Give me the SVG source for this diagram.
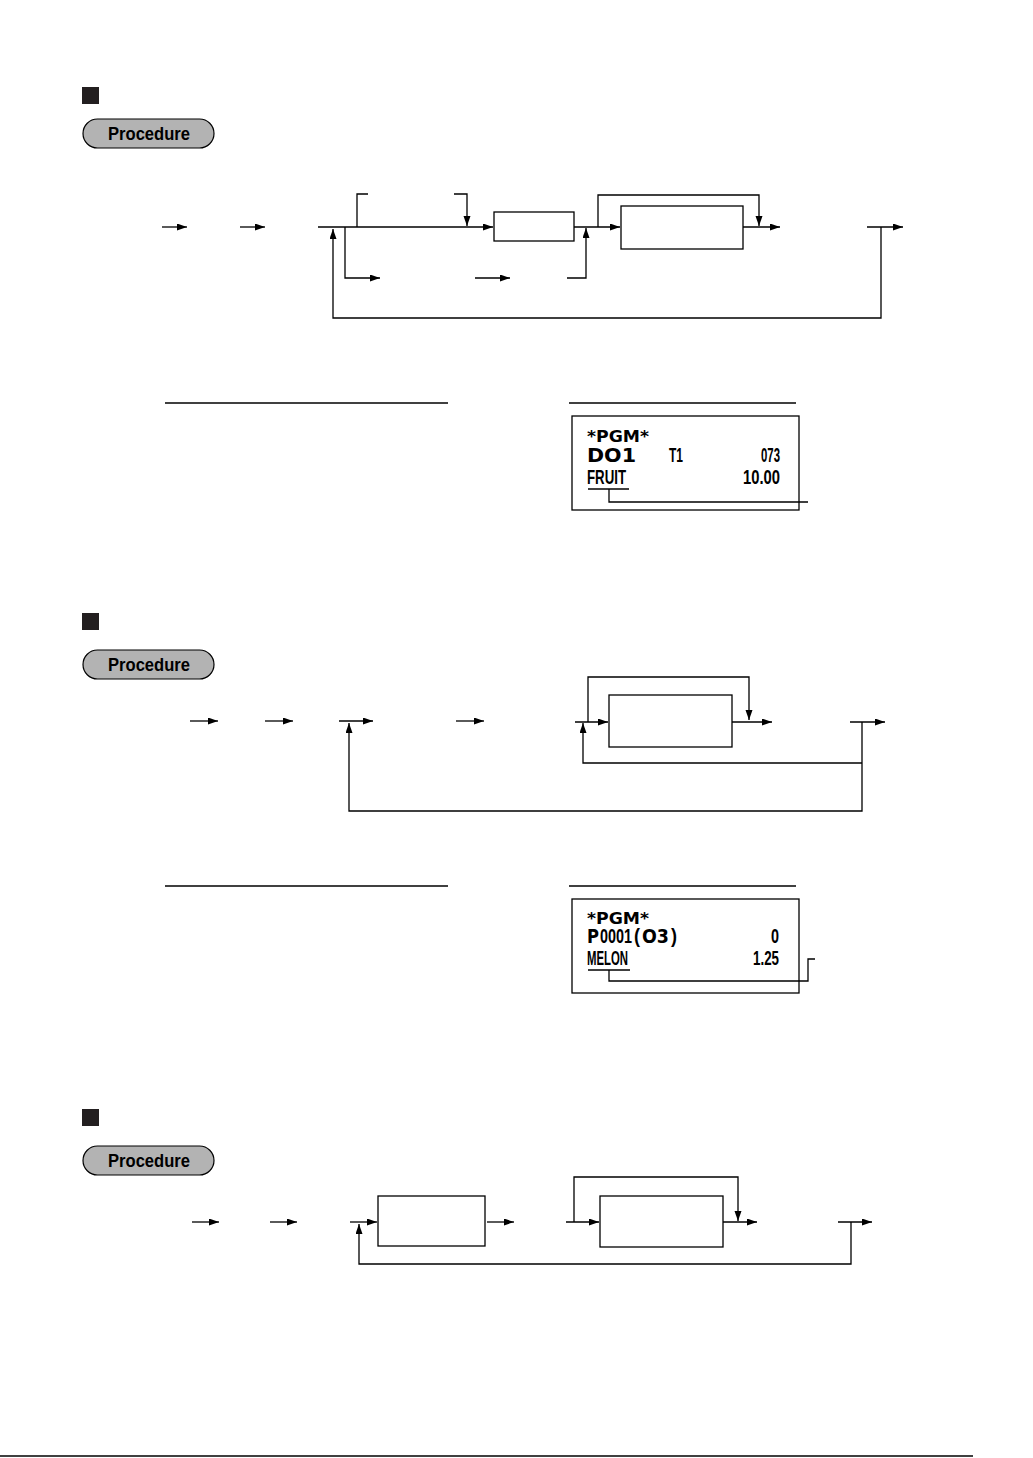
<svg xmlns="http://www.w3.org/2000/svg" width="1033" height="1458" viewBox="0 0 1033 1458">
<style>
.ln{fill:none;stroke:#000;stroke-width:1.3}
.ar{fill:none;stroke:#000;stroke-width:1.3;marker-end:url(#ah)}
.box{fill:#fff;stroke:#000;stroke-width:1.3}
.pill{fill:#b3b3b3;stroke:#000;stroke-width:1.2}
.ptxt{font-family:"Liberation Sans",sans-serif;font-weight:bold;font-size:18px;fill:#000}
.big{font-family:"DejaVu Sans",sans-serif;font-weight:bold;fill:#000}
.nar{font-family:"Liberation Sans",sans-serif;font-weight:bold;font-size:21px;fill:#000}
.rule{stroke:#000;stroke-width:1.3}
</style>
<defs>
<marker id="ah" markerUnits="userSpaceOnUse" markerWidth="11" markerHeight="8" refX="10" refY="3.5" orient="auto">
<path d="M0,0 L10,3.5 L0,7 z" fill="#000"/>
</marker>
</defs>
<rect width="1033" height="1458" fill="#fff"/>

<!-- Section 1 -->
<g id="sec1-head">
<rect x="82" y="87" width="17" height="17" fill="#231f20"/>
<rect class="pill" x="83" y="119" width="131" height="29" rx="14.5"/>
<text class="ptxt" x="108" y="140" textLength="82" lengthAdjust="spacingAndGlyphs">Procedure</text>
</g>
<g id="s1-box1"><rect class="box" x="494" y="212" width="80" height="29"/></g>
<g id="s1-box2"><rect class="box" x="621" y="206" width="122" height="43"/></g>
<g id="s1-connectors">
<path class="ar" d="M162,227 H187"/>
<path class="ar" d="M240,227 H265"/>
<path class="ar" d="M318,227 H493"/>
<path class="ar" d="M881,227 V318 H333 V229"/>
<path class="ln" d="M357,227 V194 H368"/>
<path class="ar" d="M454,194 H467 V226"/>
<path class="ar" d="M345,227 V278 H380"/>
<path class="ar" d="M475,278 H510"/>
<path class="ar" d="M574,227 H620"/>
<path class="ar" d="M567,278 H586 V228"/>
<path class="ar" d="M598,227 V195 H759 V226"/>
<path class="ar" d="M743,227 H780"/>
<path class="ar" d="M867,227 H903"/>
</g>
<g id="s1-rules">
<line class="rule" x1="165" y1="403" x2="448" y2="403"/>
<line class="rule" x1="569" y1="403" x2="796" y2="403"/>
</g>
<g id="s1-receipt">
<rect class="box" x="572" y="416" width="227" height="94"/>
<text class="big" x="587" y="442" font-size="16" textLength="62" lengthAdjust="spacingAndGlyphs">*PGM*</text>
<text class="big" x="587" y="462" font-size="20" textLength="49" lengthAdjust="spacingAndGlyphs">DO1</text>
<text class="nar" x="669" y="462" textLength="14" lengthAdjust="spacingAndGlyphs">T1</text>
<text class="nar" x="761" y="462" textLength="19" lengthAdjust="spacingAndGlyphs">073</text>
<text class="nar" x="587" y="484" textLength="39" lengthAdjust="spacingAndGlyphs">FRUIT</text>
<text class="nar" x="743" y="484" textLength="37" lengthAdjust="spacingAndGlyphs">10.00</text>
<line class="rule" x1="588" y1="489" x2="629" y2="489"/>
<path class="ln" d="M609,489 V502 H808"/>
</g>

<!-- Section 2 -->
<g id="sec2-head">
<rect x="82" y="613" width="17" height="17" fill="#231f20"/>
<rect class="pill" x="83" y="650" width="131" height="29" rx="14.5"/>
<text class="ptxt" x="108" y="671" textLength="82" lengthAdjust="spacingAndGlyphs">Procedure</text>
</g>
<g id="s2-box1"><rect class="box" x="609" y="695" width="123" height="52"/></g>
<g id="s2-connectors">
<path class="ar" d="M190,721 H218"/>
<path class="ar" d="M265,721 H293"/>
<path class="ar" d="M339,721 H373"/>
<path class="ar" d="M862,722 V811 H349 V723"/>
<path class="ar" d="M456,721 H484"/>
<path class="ar" d="M575,722 H608"/>
<path class="ar" d="M862,763 H583 V723"/>
<path class="ar" d="M588,722 V677 H749 V720"/>
<path class="ar" d="M732,722 H772"/>
<path class="ar" d="M850,722 H885"/>
</g>
<g id="s2-rules">
<line class="rule" x1="165" y1="886" x2="448" y2="886"/>
<line class="rule" x1="569" y1="886" x2="796" y2="886"/>
</g>
<g id="s2-receipt">
<rect class="box" x="572" y="899" width="227" height="94"/>
<text class="big" x="587" y="924" font-size="16" textLength="62" lengthAdjust="spacingAndGlyphs">*PGM*</text>
<text class="big" x="587" y="943" font-size="20" textLength="12" lengthAdjust="spacingAndGlyphs">P</text>
<text class="nar" x="600" y="943" textLength="32" lengthAdjust="spacingAndGlyphs">0001</text>
<text class="nar" x="634" y="943" textLength="6" lengthAdjust="spacingAndGlyphs">(</text>
<text class="big" x="642" y="943" font-size="19" textLength="27" lengthAdjust="spacingAndGlyphs">O3</text>
<text class="nar" x="671" y="943" textLength="6" lengthAdjust="spacingAndGlyphs">)</text>
<text class="nar" x="771" y="943" textLength="8" lengthAdjust="spacingAndGlyphs">0</text>
<text class="nar" x="587" y="965" textLength="41" lengthAdjust="spacingAndGlyphs">MELON</text>
<text class="nar" x="753" y="965" textLength="26" lengthAdjust="spacingAndGlyphs">1.25</text>
<line class="rule" x1="588" y1="970" x2="630" y2="970"/>
<path class="ln" d="M609,970 V981 H808 V959 H815"/>
</g>

<!-- Section 3 -->
<g id="sec3-head">
<rect x="82" y="1109" width="17" height="17" fill="#231f20"/>
<rect class="pill" x="83" y="1146" width="131" height="29" rx="14.5"/>
<text class="ptxt" x="108" y="1167" textLength="82" lengthAdjust="spacingAndGlyphs">Procedure</text>
</g>
<g id="s3-box1"><rect class="box" x="378" y="1196" width="107" height="50"/></g>
<g id="s3-box2"><rect class="box" x="600" y="1196" width="123" height="51"/></g>
<g id="s3-connectors">
<path class="ar" d="M192,1222 H219"/>
<path class="ar" d="M270,1222 H297"/>
<path class="ar" d="M350,1222 H377"/>
<path class="ar" d="M851,1222 V1264 H359 V1224"/>
<path class="ar" d="M487,1222 H514"/>
<path class="ar" d="M566,1222 H599"/>
<path class="ar" d="M574,1222 V1177 H738 V1221"/>
<path class="ar" d="M723,1222 H757"/>
<path class="ar" d="M838,1222 H872"/>
</g>

<line class="rule" x1="0" y1="1456" x2="973" y2="1456" stroke-width="1.5"/>
</svg>
